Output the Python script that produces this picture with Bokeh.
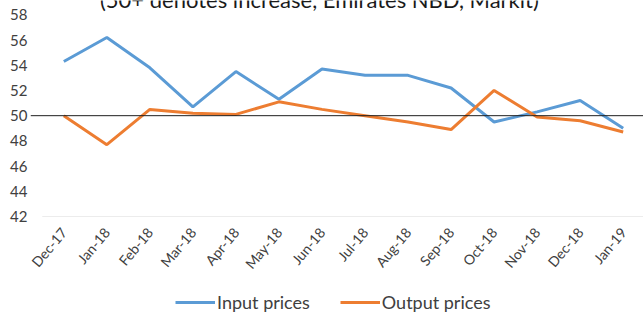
import math
from bokeh.plotting import figure
from bokeh.layouts import column
from bokeh.models import FixedTicker, Span, Legend, LegendItem, Label, Range1d
from bokeh.embed import file_html
from bokeh.resources import INLINE

months = ["Dec-17", "Jan-18", "Feb-18", "Mar-18", "Apr-18", "May-18", "Jun-18",
          "Jul-18", "Aug-18", "Sep-18", "Oct-18", "Nov-18", "Dec-18", "Jan-19"]
input_prices = [54.3, 56.2, 53.8, 50.7, 53.5, 51.3, 53.7, 53.2, 53.2, 52.2, 49.5, 50.3, 51.2, 49.0]
output_prices = [50.0, 47.7, 50.5, 50.2, 50.1, 51.1, 50.5, 50.0, 49.5, 48.9, 52.0, 49.9, 49.6, 48.7]
y_ticks = [42, 44, 46, 48, 50, 52, 54, 56, 58]
threshold = 50
series_names = ["Input prices", "Output prices"]
series_colors = ["#5B9BD5", "#ED7D31"]
title_text = "(50+ denotes increase, Emirates NBD, Markit)"

FONT = "Lato"
TXT = "#404040"

xs = list(range(len(months)))

p = figure(width=643, height=290, output_backend="svg", toolbar_location=None,
           x_range=Range1d(-0.774, 13.472), y_range=Range1d(42, 59.14),
           min_border_left=30, min_border_right=0, min_border_top=0, min_border_bottom=74)
p.outline_line_color = None
p.xgrid.visible = False
p.ygrid.visible = False
p.background_fill_color = "white"
p.border_fill_color = "white"

# axes
p.yaxis.ticker = FixedTicker(ticks=y_ticks)
p.yaxis.axis_line_color = None
p.yaxis.major_tick_line_color = None
p.yaxis.major_tick_out = 0
p.yaxis.minor_tick_line_color = None
p.yaxis.major_label_standoff = 3
p.yaxis.major_label_text_font = FONT
p.yaxis.major_label_text_font_size = "15px"
p.yaxis.major_label_text_color = TXT

p.xaxis.ticker = FixedTicker(ticks=xs)
p.xaxis.major_label_overrides = {i: m for i, m in enumerate(months)}
p.xaxis.axis_line_color = None
p.xaxis.major_tick_line_color = None
p.xaxis.major_tick_out = 0
p.xaxis.minor_tick_line_color = None
p.xaxis.major_label_orientation = math.radians(50)
p.xaxis.major_label_standoff = 13
p.xaxis.major_label_text_font = FONT
p.xaxis.major_label_text_font_size = "14px"
p.xaxis.major_label_text_color = TXT

# bottom gridline at the axis minimum, across the category bands
p.segment(x0=[-0.5], y0=[y_ticks[0]], x1=[len(months) - 0.5], y1=[y_ticks[0]],
          line_color="#D9D9D9", line_width=1)

# 50 threshold line
p.add_layout(Span(location=threshold, dimension="width", line_color="#1F1F1F", line_width=1))

p.line(xs, input_prices, line_color=series_colors[0], line_width=3)
p.line(xs, output_prices, line_color=series_colors[1], line_width=3)

# title, cropped at the top edge as in the source image
p.add_layout(Label(x=5.94, y=59.23, text=title_text, text_align="center",
                   text_baseline="alphabetic", text_font=FONT, text_font_size="22px",
                   text_color="#1A1A1A"))

# legend strip below the chart (series drawn off-range so only the legend shows)
q = figure(width=643, height=23, output_backend="svg", toolbar_location=None,
           x_range=Range1d(0, 1), y_range=Range1d(0, 1),
           x_axis_location=None, y_axis_location=None,
           min_border_left=0, min_border_right=0, min_border_top=0, min_border_bottom=0)
q.outline_line_color = None
q.xgrid.visible = False
q.ygrid.visible = False
q.border_fill_color = "white"
q.background_fill_color = "white"
lr1 = q.line(xs, input_prices, line_color=series_colors[0], line_width=3)
lr2 = q.line(xs, output_prices, line_color=series_colors[1], line_width=3)
legend = Legend(items=[LegendItem(label=series_names[0], renderers=[lr1]),
                       LegendItem(label=series_names[1], renderers=[lr2])],
                orientation="horizontal", location=(145, 0),
                label_text_font=FONT, label_text_font_size="18px", label_text_color=TXT,
                glyph_width=40, glyph_height=16, label_height=16, label_standoff=2, spacing=30,
                padding=0, margin=0, border_line_color=None, background_fill_alpha=0)
q.add_layout(legend)

layout = column(p, q, spacing=0)
open("out.html", "w").write(file_html(layout, INLINE))
